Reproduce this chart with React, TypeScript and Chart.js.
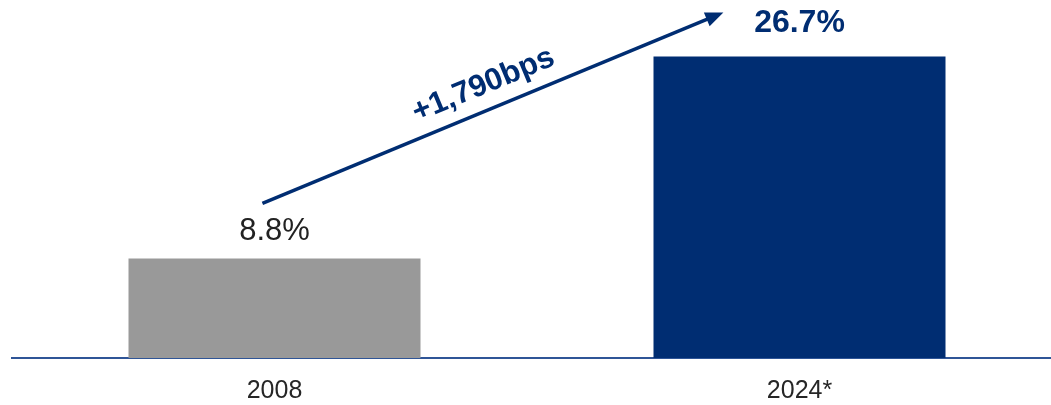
import React, { useEffect, useRef } from "react";
import { Chart, registerables } from "chart.js";

Chart.register(...registerables);

const categories = ["2008", "2024*"];
const values = [8.8, 26.7];
const valueLabels = ["8.8%", "26.7%"];
const barColors = ["#999999", "#002D72"];
const labelStyles = [
  { weight: "normal", size: 31, color: "#222222", gap: 19 },
  { weight: "bold", size: 32, color: "#002D72", gap: 24 },
];
const changeLabel = "+1,790bps";
// arrow endpoints in data units (category index, value %)
const arrowStart = { x: -0.023, y: 13.7 };
const arrowEnd = { x: 0.855, y: 30.6 };

const NAVY = "#002D72";

const overlayPlugin = {
  id: "overlay",
  afterDatasetsDraw(chart: any) {
    const ctx = chart.ctx;
    const meta = chart.getDatasetMeta(0);
    const xs = chart.scales.x;
    const ys = chart.scales.y;
    ctx.save();
    // value labels
    meta.data.forEach((bar: any, i: number) => {
      const st = labelStyles[i];
      ctx.font = `${st.weight} ${st.size}px "Liberation Sans", Arial, sans-serif`;
      ctx.fillStyle = st.color;
      ctx.textAlign = "center";
      ctx.textBaseline = "alphabetic";
      ctx.fillText(valueLabels[i], bar.x, bar.y - st.gap);
    });
    // arrow
    const x1 = xs.getPixelForValue(arrowStart.x);
    const y1 = ys.getPixelForValue(arrowStart.y);
    const x2 = xs.getPixelForValue(arrowEnd.x);
    const y2 = ys.getPixelForValue(arrowEnd.y);
    const ang = Math.atan2(y2 - y1, x2 - x1);
    const headLen = 18;
    const headHalf = 7.5;
    const bx = x2 - headLen * Math.cos(ang);
    const by = y2 - headLen * Math.sin(ang);
    ctx.strokeStyle = NAVY;
    ctx.lineWidth = 3.5;
    ctx.lineCap = "butt";
    ctx.beginPath();
    ctx.moveTo(x1, y1);
    ctx.lineTo(bx + 2 * Math.cos(ang), by + 2 * Math.sin(ang));
    ctx.stroke();
    ctx.fillStyle = NAVY;
    ctx.beginPath();
    ctx.moveTo(x2, y2);
    ctx.lineTo(bx - headHalf * Math.sin(ang), by + headHalf * Math.cos(ang));
    ctx.lineTo(bx + headHalf * Math.sin(ang), by - headHalf * Math.cos(ang));
    ctx.closePath();
    ctx.fill();
    // change label, rotated along the arrow
    const t = 0.5;
    const mx = x1 + (x2 - x1) * t;
    const my = y1 + (y2 - y1) * t;
    const off = 16;
    const lx = mx + off * Math.sin(ang);
    const ly = my - off * Math.cos(ang);
    ctx.translate(lx, ly);
    ctx.rotate(ang);
    ctx.font = `bold 31px "Liberation Sans", Arial, sans-serif`;
    ctx.fillStyle = NAVY;
    ctx.textAlign = "center";
    ctx.textBaseline = "alphabetic";
    ctx.fillText(changeLabel, 0, 0);
    ctx.restore();
  },
};

export default function App() {
  const ref = useRef<HTMLCanvasElement>(null);
  useEffect(() => {
    if (!ref.current) return;
    const chart = new Chart(ref.current, {
      type: "bar",
      data: {
        labels: categories,
        datasets: [
          {
            data: values,
            backgroundColor: barColors,
            borderWidth: 0,
            categoryPercentage: 1,
            barPercentage: 292 / 525,
          },
        ],
      },
      options: {
        responsive: false,
        animation: false,
        devicePixelRatio: 1,
        layout: { padding: { left: 12, right: 0, top: 0, bottom: 0 } },
        plugins: { legend: { display: false }, tooltip: { enabled: false } },
        scales: {
          x: {
            grid: { display: false, drawTicks: false },
            border: { display: true, color: "#2F5597", width: 2 },
            ticks: {
              padding: 18,
              color: "#262626",
              font: { family: '"Liberation Sans", Arial, sans-serif', size: 25 },
            },
            afterFit: (s: any) => {
              s.height = 47;
            },
          },
          y: {
            display: false,
            min: 0,
            max: 31.7,
          },
        },
      },
      plugins: [overlayPlugin],
    });
    return () => chart.destroy();
  }, []);
  return (
    <div
      style={{
        position: "fixed",
        left: 0,
        top: 0,
        width: 1051,
        height: 405,
        overflow: "hidden",
        background: "#ffffff",
      }}
    >
      <canvas ref={ref} width={1062} height={405} style={{ width: 1062, height: 405 }} />
    </div>
  );
}
